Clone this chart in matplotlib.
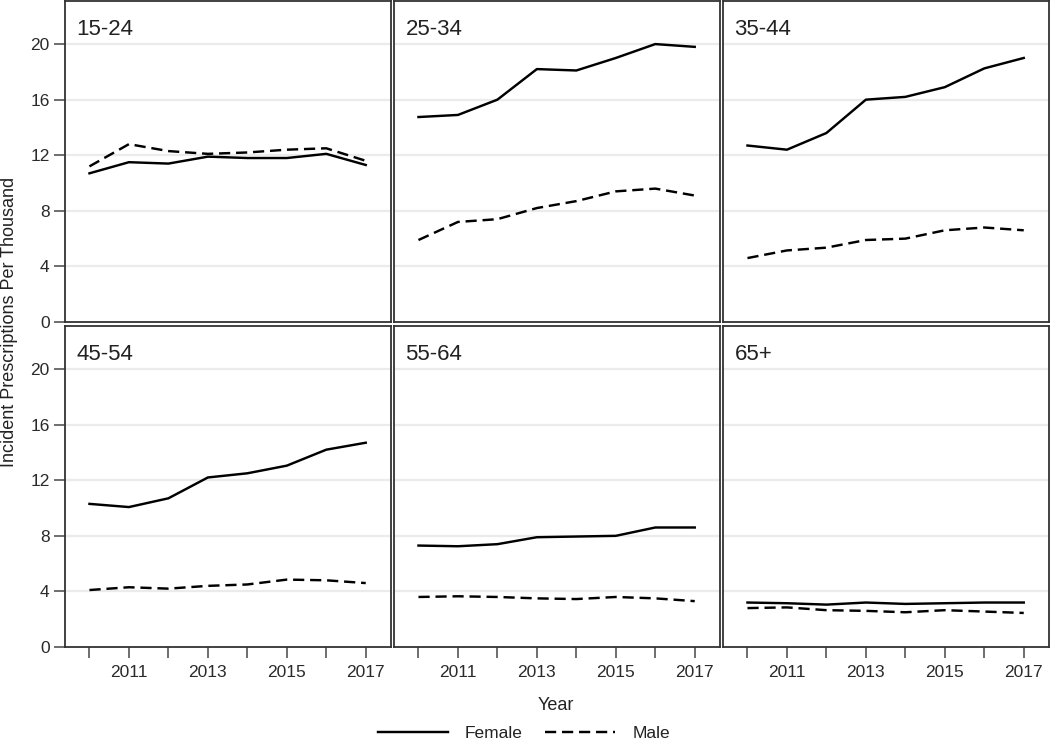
import matplotlib
matplotlib.use("Agg")
import matplotlib.pyplot as plt
from matplotlib.lines import Line2D

plt.rcParams['font.family'] = ['Liberation Sans', 'DejaVu Sans']

years = [2010, 2011, 2012, 2013, 2014, 2015, 2016, 2017]
age_groups = ["15-24", "25-34", "35-44", "45-54", "55-64", "65+"]

female = {
    "15-24": [10.7, 11.5, 11.4, 11.9, 11.8, 11.8, 12.1, 11.3],
    "25-34": [14.75, 14.9, 16.0, 18.2, 18.1, 19.0, 20.0, 19.8],
    "35-44": [12.7, 12.4, 13.6, 16.0, 16.2, 16.9, 18.25, 19.0],
    "45-54": [10.3, 10.07, 10.7, 12.2, 12.5, 13.05, 14.2, 14.7],
    "55-64": [7.3, 7.25, 7.4, 7.9, 7.95, 8.0, 8.6, 8.6],
    "65+":   [3.2, 3.15, 3.05, 3.2, 3.1, 3.15, 3.2, 3.2],
}
male = {
    "15-24": [11.2, 12.8, 12.3, 12.1, 12.2, 12.4, 12.5, 11.6],
    "25-34": [5.9, 7.2, 7.4, 8.2, 8.7, 9.4, 9.6, 9.1],
    "35-44": [4.6, 5.15, 5.35, 5.9, 6.0, 6.6, 6.8, 6.6],
    "45-54": [4.1, 4.3, 4.2, 4.4, 4.5, 4.85, 4.8, 4.6],
    "55-64": [3.6, 3.65, 3.6, 3.5, 3.45, 3.6, 3.5, 3.3],
    "65+":   [2.8, 2.85, 2.65, 2.6, 2.5, 2.65, 2.55, 2.45],
}
yticks = [0, 4, 8, 12, 16, 20]
xtick_labels = [2011, 2013, 2015, 2017]

W, H = 1050, 740
fig = plt.figure(figsize=(W / 100, H / 100), dpi=100)

lefts = [65, 394, 723]
pw = 326
tops = [1, 326]
ph = 321

lw = 1.75
dash = (0, (4.6, 2.4))
tick_col = '#2a2a2a'
frame_col = '#333333'

for i, grp in enumerate(age_groups):
    r, c = divmod(i, 3)
    x0 = lefts[c]
    y0 = tops[r]
    ax = fig.add_axes([x0 / W, 1 - (y0 + ph) / H, pw / W, ph / H])
    ax.set_xlim(2009.38, 2017.64)
    ax.set_ylim(0, 23.1)
    for yv in yticks[1:]:
        ax.axhline(yv, color='#ebebeb', lw=1.6, zorder=0)
    ax.plot(years, female[grp], color='black', lw=lw, solid_joinstyle='round')
    ax.plot(years, male[grp], color='black', lw=lw, linestyle=dash)
    ax.text(0.035, 0.945, grp, transform=ax.transAxes, ha='left', va='top',
            fontsize=16, color='#222222')
    for s in ax.spines.values():
        s.set_color(frame_col)
        s.set_linewidth(1.3)
    ax.set_yticks(yticks)
    ax.set_xticks(years)
    ax.set_xticklabels([str(y) if y in xtick_labels else '' for y in years])
    ax.tick_params(axis='both', direction='out', length=8, width=1.2,
                   color='#555555', labelcolor=tick_col, labelsize=12.5)
    ax.tick_params(axis='y', pad=3)
    if c != 0:
        ax.tick_params(axis='y', left=False, labelleft=False)
    if r == 0:
        ax.tick_params(axis='x', bottom=False, labelbottom=False)
    else:
        ax.tick_params(axis='x', pad=5)

fig.text(10 / W, 1 - 322 / H, 'Incident Prescriptions Per Thousand', rotation=90,
         ha='center', va='center', fontsize=13, color='#222222')
fig.text(556 / W, 1 - 705 / H, 'Year', ha='center', va='center',
         fontsize=13, color='#222222')

handles = [Line2D([0], [0], color='black', lw=lw),
           Line2D([0], [0], color='black', lw=lw, linestyle=dash)]
fig.legend(handles, ['Female', 'Male'], loc='center', ncol=2,
           bbox_to_anchor=(524 / W, 1 - 733 / H), frameon=False,
           fontsize=12.5, handlelength=4.0, columnspacing=1.3,
           handletextpad=1.0, labelcolor='#222222')

fig.savefig('out.png', dpi=100)
